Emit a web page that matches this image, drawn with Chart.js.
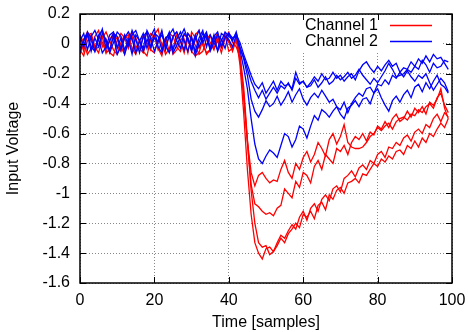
<!DOCTYPE html>
<html>
<head>
<meta charset="utf-8">
<script src="https://cdn.jsdelivr.net/npm/chart.js@4"></script>
<style>
  html, body { margin: 0; padding: 0; background: #fff; }
  canvas { display: block; }
</style>
</head>
<body>
<canvas id="voltageChart" width="468" height="332"></canvas>
<script>
// sample values, one array per trace (x = sample index 0..99)
const channel1A = [0.03,-0.05,0.06,0.07,-0.02,-0.06,0.04,0.08,0.02,-0.04,-0.07,0.01,0.06,0.03,-0.05,0.04,-0.03,-0.06,0.02,0.07,0.05,-0.04,0.01,-0.07,-0.03,0.05,0.08,0.02,-0.05,0.03,-0.02,0.06,0.09,-0.01,-0.06,-0.04,0.03,0.07,-0.02,0.05,0.02,-0.05,0.03,
  -0.1,-0.36,-0.65,-0.86,-0.95,-0.88,-0.86,-0.9,-0.93,-0.91,-0.92,-0.84,-0.78,-0.86,-0.9,-0.8,-0.84,-0.76,-0.72,-0.79,-0.74,-0.66,-0.7,-0.75,-0.64,-0.6,-0.67,-0.62,-0.54,-0.66,-0.69,-0.7,-0.7,-0.69,-0.66,-0.62,-0.6,-0.56,-0.58,-0.55,-0.53,-0.57,-0.52,-0.5,-0.49,-0.51,-0.47,-0.48,-0.44,-0.46,-0.42,-0.4,-0.43,-0.36,-0.33,-0.41,-0.46];
const channel1B = [-0.04,-0.08,0.02,0.06,-0.03,0.05,0.01,-0.06,-0.04,0.07,0.03,-0.02,-0.07,0.04,0.08,-0.03,0.02,-0.05,-0.08,0.03,0.06,0.1,-0.02,0.04,-0.05,-0.03,0.06,0.02,-0.06,0.07,0.04,-0.01,-0.07,-0.05,0.03,0.06,-0.03,0.02,-0.06,0.04,0.08,0.01,-0.02,
  -0.09,-0.33,-0.66,-0.94,-1.07,-1.09,-1.12,-1.14,-1.13,-1.15,-1.1,-1.08,-0.97,-1.0,-1.03,-0.92,-0.96,-0.86,-0.88,-0.93,-0.82,-0.78,-0.84,-0.74,-0.77,-0.8,-0.7,-0.72,-0.68,-0.74,-0.66,-0.62,-0.64,-0.6,-0.65,-0.59,-0.61,-0.55,-0.57,-0.52,-0.56,-0.5,-0.47,-0.52,-0.5,-0.45,-0.49,-0.43,-0.46,-0.42,-0.47,-0.39,-0.41,-0.37,-0.3,-0.43,-0.5];
const channel1C = [0.06,0.01,-0.07,-0.03,0.05,0.09,-0.02,0.03,-0.06,-0.08,0.02,0.07,0.04,-0.03,0.05,-0.06,-0.02,0.04,0.07,-0.04,-0.06,0.03,0.08,-0.01,0.05,-0.07,-0.04,0.02,0.06,0.04,-0.05,-0.08,-0.06,0.03,0.07,0.01,-0.04,0.05,-0.02,0.06,-0.05,-0.03,0.04,
  -0.14,-0.46,-0.84,-1.14,-1.33,-1.4,-1.44,-1.37,-1.36,-1.39,-1.35,-1.3,-1.33,-1.27,-1.24,-1.2,-1.23,-1.14,-1.16,-1.12,-1.17,-1.08,-1.06,-1.11,-1.01,-1.04,-0.98,-0.96,-1.0,-0.93,-0.92,-0.9,-0.93,-0.87,-0.88,-0.84,-0.8,-0.82,-0.77,-0.79,-0.75,-0.77,-0.72,-0.71,-0.74,-0.68,-0.7,-0.65,-0.69,-0.63,-0.66,-0.6,-0.62,-0.57,-0.53,-0.56,-0.5];
const channel1D = [-0.07,0.03,0.08,0.02,-0.04,-0.02,0.05,-0.06,0.03,0.07,-0.01,-0.05,0.04,0.06,-0.03,-0.07,0.02,0.05,0.01,-0.04,0.06,-0.03,-0.08,0.03,0.07,0.05,-0.02,-0.05,0.03,-0.06,0.08,0.04,-0.03,0.02,-0.07,-0.04,0.05,0.03,-0.02,0.07,0.01,-0.04,0.05,
  -0.07,-0.29,-0.64,-0.98,-1.2,-1.33,-1.36,-1.35,-1.41,-1.39,-1.33,-1.28,-1.3,-1.25,-1.21,-1.24,-1.16,-1.12,-1.18,-1.1,-1.07,-1.12,-1.04,-1.01,-1.05,-0.97,-0.95,-0.99,-0.9,-0.88,-0.85,-0.89,-0.83,-0.81,-0.84,-0.78,-0.8,-0.74,-0.72,-0.76,-0.69,-0.7,-0.66,-0.68,-0.63,-0.61,-0.65,-0.59,-0.57,-0.6,-0.54,-0.56,-0.5,-0.47,-0.52,-0.46,-0.49];

const channel2A = [0.02,0.07,-0.04,0.05,0.09,0.03,-0.06,-0.02,0.06,0.08,-0.03,0.04,-0.07,0.01,0.06,0.09,0.02,-0.05,0.03,-0.02,0.07,0.05,-0.04,0.02,0.08,-0.06,-0.01,0.05,0.1,0.03,-0.04,0.06,-0.02,0.04,0.08,-0.05,0.01,0.06,0.03,-0.03,0.07,0.04,0.05,
  -0.04,-0.16,-0.3,-0.5,-0.67,-0.77,-0.8,-0.75,-0.71,-0.73,-0.76,-0.68,-0.6,-0.62,-0.69,-0.64,-0.55,-0.57,-0.63,-0.55,-0.48,-0.51,-0.44,-0.46,-0.49,-0.45,-0.42,-0.47,-0.5,-0.43,-0.41,-0.38,-0.42,-0.37,-0.36,-0.4,-0.33,-0.3,-0.36,-0.41,-0.45,-0.38,-0.35,-0.39,-0.34,-0.31,-0.36,-0.29,-0.27,-0.32,-0.26,-0.3,-0.25,-0.21,-0.27,-0.29,-0.33];
const channel2B = [-0.06,0.03,0.07,-0.02,-0.05,0.06,0.09,0.01,-0.04,0.05,-0.07,-0.02,0.04,0.08,0.03,-0.06,0.02,0.07,-0.03,0.05,0.1,-0.02,-0.06,0.04,0.06,-0.04,0.03,0.08,0.02,-0.05,0.05,-0.08,0.01,0.07,0.04,-0.03,0.06,-0.05,0.02,0.08,0.05,0.03,0.07,
  -0.02,-0.1,-0.21,-0.37,-0.45,-0.49,-0.44,-0.38,-0.42,-0.4,-0.35,-0.41,-0.37,-0.32,-0.39,-0.34,-0.3,-0.37,-0.41,-0.36,-0.33,-0.36,-0.31,-0.35,-0.39,-0.37,-0.42,-0.44,-0.39,-0.46,-0.4,-0.36,-0.33,-0.35,-0.3,-0.29,-0.33,-0.27,-0.28,-0.24,-0.27,-0.21,-0.23,-0.19,-0.22,-0.18,-0.22,-0.25,-0.21,-0.23,-0.2,-0.26,-0.31,-0.27,-0.23,-0.26,-0.32];
const channel2C = [0.05,-0.02,0.08,0.04,-0.05,0.03,0.1,-0.03,0.02,0.07,0.05,-0.04,0.06,-0.01,0.09,0.03,-0.06,0.05,0.08,-0.02,0.04,0.01,0.09,-0.04,0.06,0.1,0.02,-0.03,0.07,0.04,-0.05,0.03,0.09,0.01,0.06,-0.03,0.05,0.08,-0.02,0.04,0.07,0.02,0.08,
  -0.03,-0.09,-0.17,-0.25,-0.31,-0.36,-0.31,-0.37,-0.33,-0.29,-0.33,-0.28,-0.3,-0.26,-0.31,-0.23,-0.27,-0.25,-0.29,-0.26,-0.22,-0.25,-0.2,-0.24,-0.23,-0.19,-0.23,-0.21,-0.25,-0.22,-0.2,-0.24,-0.18,-0.14,-0.12,-0.16,-0.19,-0.15,-0.18,-0.14,-0.11,-0.15,-0.13,-0.19,-0.16,-0.17,-0.12,-0.15,-0.1,-0.13,-0.08,-0.12,-0.07,-0.1,-0.09,-0.13,-0.17];
const channel2D = [-0.03,0.02,0.06,-0.05,0.04,-0.02,0.07,0.03,-0.06,0.01,0.08,0.05,-0.04,0.03,-0.07,0.06,0.02,-0.03,0.09,0.04,-0.05,0.02,0.06,-0.01,-0.06,0.05,0.08,0.02,-0.04,0.07,0.03,-0.05,0.04,0.09,-0.02,0.06,0.01,-0.04,0.07,0.05,0.03,-0.02,0.06,
  0.01,-0.07,-0.14,-0.21,-0.27,-0.3,-0.26,-0.33,-0.29,-0.25,-0.31,-0.25,-0.28,-0.27,-0.3,-0.19,-0.26,-0.25,-0.29,-0.28,-0.24,-0.29,-0.26,-0.22,-0.27,-0.25,-0.21,-0.24,-0.22,-0.19,-0.23,-0.21,-0.17,-0.21,-0.24,-0.27,-0.23,-0.26,-0.22,-0.18,-0.13,-0.17,-0.22,-0.21,-0.2,-0.17,-0.19,-0.15,-0.17,-0.11,-0.14,-0.19,-0.13,-0.16,-0.15,-0.11,-0.12];

const seriesNames = ['Channel 1', 'Channel 2'];
const xTicks = [0, 20, 40, 60, 80, 100];
const yTicks = [-1.6, -1.4, -1.2, -1, -0.8, -0.6, -0.4, -0.2, 0, 0.2];

const RED = '#ff0000';
const BLUE = '#0000ff';
const FONT = '"Liberation Sans", Arial, sans-serif';

function toPoints(values) {
    return values.map((v, i) => ({ x: i, y: v }));
}

function trace(values, color, order) {
    return {
        data: toPoints(values),
        borderColor: color,
        borderWidth: 1.3,
        pointRadius: 0,
        fill: false,
        tension: 0,
        order: order
    };
}

// gnuplot style frame, inward ticks and key
const framePlugin = {
    id: 'frame',
    beforeDatasetsDraw(chart) {
        const ctx = chart.ctx;
        ctx.save();
        ctx.fillStyle = '#fff';
        ctx.fillRect(293, chart.chartArea.top + 1, 150, 36);
        ctx.restore();
    },
    afterDraw(chart) {
        const { ctx, chartArea: a, scales } = chart;
        ctx.save();
        ctx.setLineDash([]);
        // key
        ctx.font = '16px ' + FONT;
        ctx.textAlign = 'right';
        ctx.textBaseline = 'middle';
        const rows = [[seriesNames[0], RED, 25.5], [seriesNames[1], BLUE, 41.5]];
        rows.forEach(row => {
            ctx.fillStyle = '#000';
            ctx.fillText(row[0], 378, row[2]);
            ctx.strokeStyle = row[1];
            ctx.lineWidth = 1.3;
            ctx.beginPath();
            ctx.moveTo(390, row[2]);
            ctx.lineTo(432, row[2]);
            ctx.stroke();
        });

        // ticks
        ctx.strokeStyle = '#000';
        ctx.lineWidth = 1;
        ctx.beginPath();
        xTicks.forEach(t => {
            const px = Math.round(scales.x.getPixelForValue(t)) + 0.5;
            ctx.moveTo(px, a.bottom); ctx.lineTo(px, a.bottom - 6);
            ctx.moveTo(px, a.top); ctx.lineTo(px, a.top + 6);
        });
        yTicks.forEach(t => {
            const py = Math.round(scales.y.getPixelForValue(t)) + 0.5;
            ctx.moveTo(a.left, py); ctx.lineTo(a.left + 6, py);
            ctx.moveTo(a.right, py); ctx.lineTo(a.right - 6, py);
        });
        ctx.stroke();

        // border
        ctx.lineWidth = 1.5;
        ctx.strokeRect(a.left, a.top, a.right - a.left, a.bottom - a.top);
        ctx.restore();
    }
};

const ctx = document.getElementById('voltageChart').getContext('2d');

new Chart(ctx, {
    type: 'line',
    data: {
        datasets: [
            trace(channel1A, RED, 1),
            trace(channel1B, RED, 1),
            trace(channel1C, RED, 1),
            trace(channel1D, RED, 1),
            trace(channel2A, BLUE, 0),
            trace(channel2B, BLUE, 0),
            trace(channel2C, BLUE, 0),
            trace(channel2D, BLUE, 0)
        ]
    },
    options: {
        responsive: false,
        animation: false,
        devicePixelRatio: 1,
        layout: { padding: { top: 14, right: 16, left: 0, bottom: 0 } },
        plugins: {
            legend: { display: false },
            tooltip: { enabled: false }
        },
        scales: {
            x: {
                type: 'linear',
                min: 0,
                max: 100,
                afterFit: s => { s.height = 49; s.paddingLeft = 0; s.paddingRight = 0; },
                afterBuildTicks: s => { s.ticks = xTicks.map(v => ({ value: v })); },
                grid: { color: '#888', lineWidth: 1, drawTicks: false },
                border: { display: false, dash: [1, 2] },
                ticks: {
                    padding: 8,
                    color: '#000',
                    font: { family: FONT, size: 16 }
                },
                title: {
                    display: true,
                    text: 'Time [samples]',
                    color: '#000',
                    font: { family: FONT, size: 16 },
                    padding: { top: 0, bottom: 0 }
                }
            },
            y: {
                type: 'linear',
                min: -1.6,
                max: 0.2,
                afterFit: s => { s.width = 80; s.paddingTop = 0; s.paddingBottom = 0; },
                afterBuildTicks: s => { s.ticks = yTicks.map(v => ({ value: v })); },
                grid: { color: '#888', lineWidth: 1, drawTicks: false },
                border: { display: false, dash: [1, 2] },
                ticks: {
                    padding: 10,
                    color: '#000',
                    font: { family: FONT, size: 16 },
                    callback: v => String(Math.round(v * 10) / 10)
                },
                title: {
                    display: true,
                    text: 'Input Voltage',
                    color: '#000',
                    font: { family: FONT, size: 16 },
                    padding: { top: 4, bottom: 0 }
                }
            }
        }
    },
    plugins: [framePlugin]
});
</script>
</body>
</html>
